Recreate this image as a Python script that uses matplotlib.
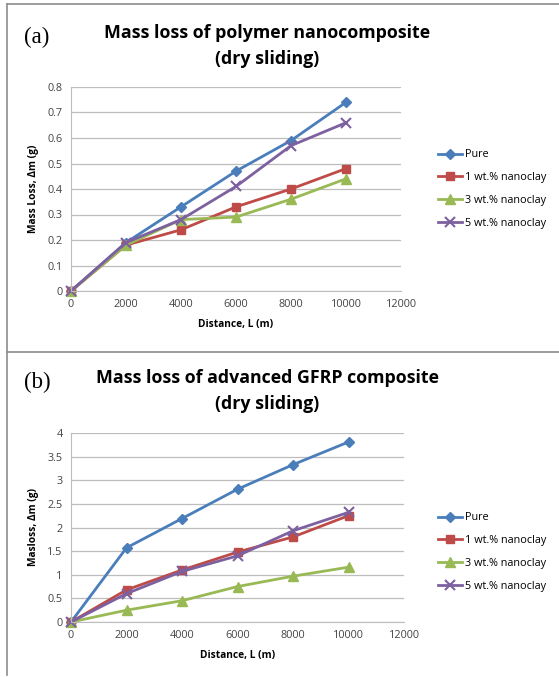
import matplotlib
matplotlib.use("Agg")
import matplotlib.pyplot as plt
from matplotlib.lines import Line2D

# sliding distance (m)
distance = [0, 2000, 4000, 6000, 8000, 10000]

# (a) polymer nanocomposite, mass loss (g)
a_pure = [0, 0.19, 0.33, 0.47, 0.59, 0.74]
a_1wt = [0, 0.18, 0.24, 0.33, 0.40, 0.48]
a_3wt = [0, 0.18, 0.28, 0.29, 0.36, 0.44]
a_5wt = [0, 0.19, 0.28, 0.41, 0.57, 0.66]

# (b) advanced GFRP composite, mass loss (g)
b_pure = [0, 1.57, 2.19, 2.81, 3.33, 3.81]
b_1wt = [0, 0.68, 1.10, 1.48, 1.80, 2.25]
b_3wt = [0, 0.25, 0.45, 0.75, 0.97, 1.16]
b_5wt = [0, 0.60, 1.07, 1.40, 1.93, 2.32]

labels = ["Pure", "1 wt.% nanoclay", "3 wt.% nanoclay", "5 wt.% nanoclay"]
colors = ["#4A7EBB", "#BE4B48", "#98B954", "#7D60A0"]
markers = ["D", "s", "^", "x"]
msizes = [5, 6, 6.5, 7]

plt.rcParams['font.family'] = ['Open Sans', 'DejaVu Sans']

W, H = 559, 677
fig = plt.figure(figsize=(W / 100, H / 100), dpi=100)


def px(x0, y0, x1, y1):
    # pixel box -> figure fraction rect
    return [x0 / W, 1 - y1 / H, (x1 - x0) / W, (y1 - y0) / H]


def draw_panel(rect, series, ymax, ystep, ylabel, title, tag, title_y, tag_y, leg_y):
    ax = fig.add_axes(rect)
    for vals, lab, c, m, ms in zip(series, labels, colors, markers, msizes):
        ax.plot(distance, vals, color=c, lw=2, marker=m, ms=ms,
                mew=1.5 if m == "x" else 1, mec=c, mfc=c, label=lab, clip_on=False)
    ax.set_xlim(0, 12000)
    ax.set_ylim(0, ymax)
    ax.set_xticks(range(0, 12001, 2000))
    yt = [i * ystep for i in range(int(round(ymax / ystep)) + 1)]
    ax.set_yticks(yt)
    ax.set_yticklabels(["%g" % v for v in yt])
    ax.grid(axis="y", color="#BDBDBD", lw=0.9)
    ax.set_axisbelow(True)
    for s in ["top", "right"]:
        ax.spines[s].set_visible(False)
    for s in ["left", "bottom"]:
        ax.spines[s].set_color("#BDBDBD")
    ax.tick_params(length=0, labelsize=7.8, labelcolor="#444444", pad=6)
    ax.set_xlabel("Distance, L (m)", fontsize=7.3, fontweight="bold", labelpad=6)
    ax.set_ylabel(ylabel, fontsize=7.3, fontweight="bold", labelpad=6)
    fig.text(267 / W, 1 - title_y / H, title, ha="center", va="center",
             fontsize=12.8, fontweight="bold", linespacing=1.55)
    fig.text(24 / W, 1 - tag_y / H, tag, ha="left", va="center",
             fontsize=16.5, family="Liberation Serif")
    ax.legend(loc="upper left", bbox_to_anchor=(434 / W, 1 - leg_y / H),
              bbox_transform=fig.transFigure, frameon=False, fontsize=7.8,
              handlelength=2.2, handletextpad=0.3, labelspacing=1.1,
              borderaxespad=0)
    return ax


draw_panel(px(71, 87, 401, 291), [a_pure, a_1wt, a_3wt, a_5wt], 0.8, 0.1,
           "Mass Loss, \u0394m (g)", "Mass loss of polymer nanocomposite\n(dry sliding)",
           "(a)", 46, 37, 145)
draw_panel(px(71, 433, 404, 622), [b_pure, b_1wt, b_3wt, b_5wt], 4, 0.5,
           "Masloss, \u0394m (g)", "Mass loss of advanced GFRP composite\n(dry sliding)",
           "(b)", 391, 382, 508)

# panel borders
border = "#8C8C8C"
fig.add_artist(Line2D([7 / W, 1], [1 - 4 / H, 1 - 4 / H], color=border, lw=1.2))
fig.add_artist(Line2D([7 / W, 1], [1 - 352 / H, 1 - 352 / H], color=border, lw=1.2))
fig.add_artist(Line2D([7 / W, 7 / W], [1 - 4 / H, 1 - 675 / H], color=border, lw=1.2))

fig.savefig("out.png", dpi=100)
